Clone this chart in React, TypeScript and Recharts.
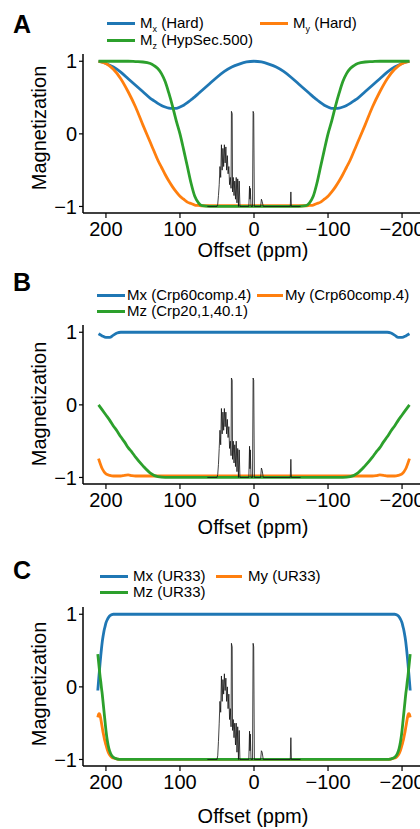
import React from 'react';
import { LineChart, Line, XAxis, YAxis } from 'recharts';

const FONT = '"Liberation Sans", Arial, Helvetica, sans-serif';
const BLUE = '#1f77b4';
const ORANGE = '#ff7f0e';
const GREEN = '#2ca02c';

const X_TICKS = [200, 100, 0, -100, -200];
const Y_TICKS = [1, 0, -1];

// Panel A: hard pulse / HypSec.500
const PPM_A = [210, 200, 190, 180, 170, 160, 150, 140, 135, 130, 125, 120, 115, 110, 105, 100, 95, 90, 85, 80, 75, 70, 60, 50, 40, 30, 20, 10, 0, -10, -20, -30, -40, -50, -60, -70, -75, -80, -85, -90, -95, -100, -105, -110, -115, -120, -125, -130, -135, -140, -150, -160, -170, -180, -190, -200, -210];
const MX_A = [1.0, 0.97, 0.92, 0.85, 0.76, 0.67, 0.58, 0.49, 0.455, 0.42, 0.39, 0.37, 0.355, 0.35, 0.35, 0.37, 0.395, 0.43, 0.47, 0.51, 0.555, 0.6, 0.69, 0.78, 0.86, 0.92, 0.96, 0.99, 1.0, 0.99, 0.96, 0.92, 0.86, 0.78, 0.69, 0.6, 0.555, 0.51, 0.47, 0.43, 0.395, 0.37, 0.35, 0.35, 0.355, 0.37, 0.39, 0.42, 0.455, 0.49, 0.58, 0.67, 0.76, 0.85, 0.92, 0.97, 1.0];
const MY_A = [1.0, 0.97, 0.89, 0.76, 0.58, 0.37, 0.12, -0.12, -0.24, -0.36, -0.46, -0.56, -0.65, -0.73, -0.8, -0.86, -0.9, -0.94, -0.96, -0.98, -0.985, -0.99, -0.99, -0.99, -0.99, -0.99, -0.99, -0.99, -0.99, -0.99, -0.99, -0.99, -0.99, -0.99, -0.99, -0.99, -0.985, -0.98, -0.96, -0.94, -0.9, -0.86, -0.8, -0.73, -0.65, -0.56, -0.46, -0.36, -0.24, -0.12, 0.12, 0.37, 0.58, 0.76, 0.89, 0.97, 1.0];
const MZ_A = [1, 1, 1, 1, 1, 0.995, 0.99, 0.97, 0.94, 0.9, 0.83, 0.72, 0.56, 0.38, 0.18, 0, -0.22, -0.45, -0.68, -0.86, -0.95, -0.99, -1, -1, -1, -1, -1, -1, -1, -1, -1, -1, -1, -1, -1, -0.99, -0.95, -0.86, -0.68, -0.45, -0.22, 0, 0.18, 0.38, 0.56, 0.72, 0.83, 0.9, 0.94, 0.97, 0.99, 0.995, 1, 1, 1, 1, 1];

// Panel B: Crp60comp.4 / Crp20,1,40.1
const PPM_B = [210, 205, 200, 195, 190, 185, 180, 175, 170, 165, 160, 150, 140, 130, 120, 100, 80, 60, 40, 20, 0, -20, -40, -60, -80, -100, -120, -130, -140, -150, -160, -165, -170, -175, -180, -185, -190, -195, -200, -205, -210];
const MX_B = [0.98, 0.95, 0.93, 0.93, 0.96, 0.99, 1, 1, 1, 1, 1, 1, 1, 1, 1, 1, 1, 1, 1, 1, 1, 1, 1, 1, 1, 1, 1, 1, 1, 1, 1, 1, 1, 1, 1, 0.99, 0.96, 0.93, 0.93, 0.95, 0.98];
const MY_B = [-0.74, -0.88, -0.95, -0.97, -0.98, -0.98, -0.98, -0.97, -0.965, -0.975, -0.98, -0.98, -0.98, -0.98, -0.98, -0.98, -0.98, -0.98, -0.98, -0.98, -0.98, -0.98, -0.98, -0.98, -0.98, -0.98, -0.98, -0.98, -0.98, -0.98, -0.98, -0.975, -0.965, -0.97, -0.98, -0.98, -0.98, -0.97, -0.95, -0.88, -0.74];
const MZ_B = [0, -0.07, -0.14, -0.21, -0.29, -0.36, -0.44, -0.51, -0.59, -0.65, -0.72, -0.84, -0.94, -0.99, -1, -1, -1, -1, -1, -1, -1, -1, -1, -1, -1, -1, -1, -0.99, -0.94, -0.84, -0.72, -0.65, -0.59, -0.51, -0.44, -0.36, -0.29, -0.21, -0.14, -0.07, 0];

// Panel C: UR33
const PPM_C = [211, 210, 209, 208, 207, 206, 205, 204, 203, 202, 201, 200, 198, 196, 194, 192, 190, 187, 184, 180, 170, 150, 100, 50, 0, -50, -100, -150, -170, -180, -184, -187, -190, -192, -194, -196, -198, -200, -201, -202, -203, -204, -205, -206, -207, -208, -209, -210, -211];
const MX_C = [-0.05, 0.08, 0.2, 0.32, 0.43, 0.53, 0.62, 0.69, 0.75, 0.8, 0.84, 0.88, 0.93, 0.965, 0.985, 0.995, 1, 1, 1, 1, 1, 1, 1, 1, 1, 1, 1, 1, 1, 1, 1, 1, 1, 0.995, 0.985, 0.965, 0.93, 0.88, 0.84, 0.8, 0.75, 0.69, 0.62, 0.53, 0.43, 0.32, 0.2, 0.08, -0.05];
const MY_C = [-0.42, -0.38, -0.37, -0.39, -0.44, -0.5, -0.56, -0.62, -0.67, -0.72, -0.76, -0.8, -0.87, -0.92, -0.95, -0.97, -0.98, -0.99, -0.997, -1, -1, -1, -1, -1, -1, -1, -1, -1, -1, -1, -0.997, -0.99, -0.98, -0.97, -0.95, -0.92, -0.87, -0.8, -0.76, -0.72, -0.67, -0.62, -0.56, -0.5, -0.44, -0.39, -0.37, -0.38, -0.42];
const MZ_C = [0.45, 0.35, 0.25, 0.15, 0.07, -0.02, -0.1, -0.2, -0.3, -0.4, -0.5, -0.6, -0.75, -0.85, -0.91, -0.95, -0.97, -0.985, -0.995, -1, -1, -1, -1, -1, -1, -1, -1, -1, -1, -1, -0.995, -0.985, -0.97, -0.95, -0.91, -0.85, -0.75, -0.6, -0.5, -0.4, -0.3, -0.2, -0.1, -0.02, 0.07, 0.15, 0.25, 0.35, 0.45];

// 1H spectrum overlay (same positions, different scaling per panel)
const SPEC_PPM = [63, 50, 49, 48, 47, 46, 45, 44, 43, 42, 41, 40, 39, 38, 37, 36, 35, 34, 33, 32, 31, 30.5, 29.5, 29, 28, 27, 26, 25, 24, 23, 22, 21, 20, 19, 7, 6, 5.5, 5, 4, 2, 1.2, 0.4, -0.5, -9, -10, -11, -12.5, -49, -49.8, -50.5, -63];
const SPEC_A = [-1, -1, -0.97, -0.85, -0.7, -0.45, -0.6, -0.15, -0.5, -0.2, -0.45, -0.15, -0.4, -0.18, -0.5, -0.3, -0.55, -0.45, -0.7, -0.6, -0.75, 0.31, 0.28, -0.8, -0.6, -0.85, -0.65, -0.9, -0.6, -0.95, -0.62, -1, -0.65, -1, -1, -0.72, -0.9, -0.75, -1, -1, 0.31, 0.28, -1, -1, -0.9, -0.93, -1, -1, -0.8, -1, -1];
const SPEC_B = [-1, -1, -0.96, -0.82, -0.6, -0.35, -0.55, -0.05, -0.4, -0.1, -0.35, -0.05, -0.3, -0.1, -0.4, -0.2, -0.45, -0.3, -0.6, -0.5, -0.7, 0.37, 0.34, -0.75, -0.5, -0.8, -0.55, -0.85, -0.5, -0.92, -0.6, -1, -0.62, -1, -1, -0.57, -0.88, -0.62, -1, -1, 0.37, 0.34, -1, -1, -0.87, -0.9, -1, -1, -0.75, -1, -1];
const SPEC_C = [-1, -1, -0.95, -0.75, -0.5, -0.2, -0.35, 0.15, -0.2, 0.1, -0.1, 0.18, -0.05, 0.12, -0.2, 0.0, -0.3, -0.1, -0.45, -0.3, -0.55, 0.6, 0.55, -0.6, -0.45, -0.7, -0.5, -0.8, -0.5, -0.9, -0.55, -1, -0.6, -1, -1, -0.61, -0.88, -0.65, -1, -1, 0.6, 0.55, -1, -1, -0.88, -0.9, -1, -1, -0.7, -1, -1];

type LegendItem = { color: string; name: string; sub?: string; rest: string; lx: number; tx: number; w: number; row: number };

const LEGEND_A: LegendItem[] = [
  { color: BLUE, name: 'M', sub: 'x', rest: ' (Hard)', lx: 107, tx: 140, w: 28, row: 0 },
  { color: ORANGE, name: 'M', sub: 'y', rest: ' (Hard)', lx: 260, tx: 293, w: 28, row: 0 },
  { color: GREEN, name: 'M', sub: 'z', rest: ' (HypSec.500)', lx: 107, tx: 140, w: 28, row: 1 },
];
const LEGEND_B: LegendItem[] = [
  { color: BLUE, name: 'Mx (Crp60comp.4)', rest: '', lx: 97, tx: 127, w: 28, row: 0 },
  { color: ORANGE, name: 'My (Crp60comp.4)', rest: '', lx: 257, tx: 285, w: 26, row: 0 },
  { color: GREEN, name: 'Mz (Crp20,1,40.1)', rest: '', lx: 97, tx: 127, w: 28, row: 1 },
];
const LEGEND_C: LegendItem[] = [
  { color: BLUE, name: 'Mx (UR33)', rest: '', lx: 100, tx: 133, w: 28, row: 0 },
  { color: ORANGE, name: 'My (UR33)', rest: '', lx: 216, tx: 248, w: 26, row: 0 },
  { color: GREEN, name: 'Mz (UR33)', rest: '', lx: 100, tx: 133, w: 28, row: 1 },
];

const fmt = (v: number) => (v < 0 ? `\u2212${Math.abs(v)}` : `${v}`);

const build = (ppm: number[], mx: number[], my: number[], mz: number[]) =>
  ppm.map((p, i) => ({ ppm: p, mx: mx[i], my: my[i], mz: mz[i] }));

const buildSpec = (vals: number[]) => SPEC_PPM.map((p, i) => ({ ppm: p, v: vals[i] }));

const AxisTitle = (props: any) => (
  <text
    x={props.px}
    y={props.py}
    textAnchor="middle"
    dominantBaseline={props.rot ? 'central' : 'alphabetic'}
    transform={props.rot ? `rotate(-90 ${props.px} ${props.py})` : undefined}
    fontSize={20}
    fontFamily={FONT}
    fill="#000"
  >
    {props.text}
  </text>
);

type PanelProps = {
  top: number;
  letter: string;
  letterTop: number;
  legend: LegendItem[];
  legendRows: number[];
  data: any[];
  spec: any[];
  yLabelY: number;
  xLabelY: number;
};

const CHART_W = 425;
const CHART_H = 274;
const PLOT_TOP = 54;

const Panel = ({ top, letter, letterTop, legend, legendRows, data, spec, yLabelY, xLabelY }: PanelProps) => {
  const axisLine = { stroke: '#000', strokeWidth: 1.5 };
  return (
    <>
      <div style={{ position: 'absolute', left: 13, top: letterTop, fontSize: 25, lineHeight: 1, fontWeight: 'bold', fontFamily: FONT }}>
        {letter}
      </div>
      {legend.map((it) => (
        <React.Fragment key={it.name + it.rest + it.color}>
          <span style={{ position: 'absolute', left: it.lx, top: legendRows[it.row] - 1.5, width: it.w, height: 3, background: it.color }} />
          <span style={{ position: 'absolute', left: it.tx, top: legendRows[it.row] - 7.5, fontSize: 15, lineHeight: '14px', fontFamily: FONT, whiteSpace: 'nowrap', color: '#000' }}>
            {it.name}
            {it.sub ? <sub style={{ fontSize: 9, lineHeight: '9px', verticalAlign: '-4px' }}>{it.sub}</sub> : null}
            {it.rest}
          </span>
        </React.Fragment>
      ))}
      <div style={{ position: 'absolute', left: 0, top }}>
        <LineChart width={CHART_W} height={CHART_H} data={data} margin={{ top: PLOT_TOP, right: 0, bottom: 16, left: 0 }}>
          <XAxis
            dataKey="ppm"
            type="number"
            domain={[-231, 231]}
            reversed
            allowDataOverflow
            ticks={X_TICKS}
            interval={0}
            tickFormatter={fmt}
            height={45}
            tickSize={5}
            tickMargin={4}
            axisLine={axisLine}
            tickLine={{ stroke: '#000', strokeWidth: 1.2 }}
            tick={{ fontSize: 20, fill: '#000', fontFamily: FONT }}
            label={<AxisTitle px={253} py={xLabelY} text="Offset (ppm)" />}
          />
          <XAxis
            xAxisId="top"
            orientation="top"
            dataKey="ppm"
            type="number"
            domain={[-231, 231]}
            reversed
            allowDataOverflow
            height={0}
            tick={false}
            tickLine={false}
            axisLine={axisLine}
          />
          <YAxis
            type="number"
            domain={[-1.09, 1.1]}
            allowDataOverflow
            ticks={Y_TICKS}
            interval={0}
            tickFormatter={fmt}
            width={83}
            tickSize={4}
            tickMargin={2}
            axisLine={axisLine}
            tickLine={{ stroke: '#000', strokeWidth: 1.2 }}
            tick={{ fontSize: 20, fill: '#000', fontFamily: FONT }}
            label={<AxisTitle px={39} py={yLabelY} rot text="Magnetization" />}
          />
          <Line type="monotone" dataKey="mx" stroke={BLUE} strokeWidth={2.8} dot={false} isAnimationActive={false} />
          <Line type="monotone" dataKey="my" stroke={ORANGE} strokeWidth={2.8} dot={false} isAnimationActive={false} />
          <Line type="monotone" dataKey="mz" stroke={GREEN} strokeWidth={2.8} dot={false} isAnimationActive={false} />
          <Line data={spec} type="linear" dataKey="v" stroke="#111" strokeWidth={0.8} dot={false} isAnimationActive={false} />
        </LineChart>
      </div>
    </>
  );
};

export default function App() {
  return (
    <div style={{ position: 'absolute', left: 0, top: 0, width: 420, height: 829, overflow: 'hidden', background: '#fff' }}>
      <Panel
        top={0}
        letter="A"
        letterTop={12}
        legend={LEGEND_A}
        legendRows={[23, 40]}
        data={build(PPM_A, MX_A, MY_A, MZ_A)}
        spec={buildSpec(SPEC_A)}
        yLabelY={128}
        xLabelY={257}
      />
      <Panel
        top={271}
        letter="B"
        letterTop={270}
        legend={LEGEND_B}
        legendRows={[295, 311]}
        data={build(PPM_B, MX_B, MY_B, MZ_B)}
        spec={buildSpec(SPEC_B)}
        yLabelY={404 - 271}
        xLabelY={534 - 271}
      />
      <Panel
        top={553}
        letter="C"
        letterTop={558}
        legend={LEGEND_C}
        legendRows={[576, 592]}
        data={build(PPM_C, MX_C, MY_C, MZ_C)}
        spec={buildSpec(SPEC_C)}
        yLabelY={684 - 553}
        xLabelY={823 - 553}
      />
    </div>
  );
}
